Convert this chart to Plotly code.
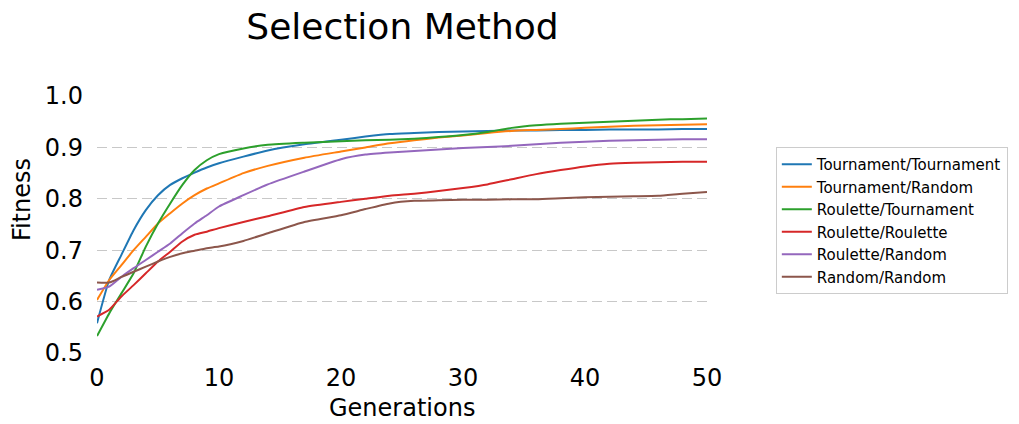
import plotly.graph_objects as go

generations = [0, 1, 2, 3, 4, 5, 6, 7, 8, 9, 10, 12, 14, 17, 20, 22, 24, 26, 28, 30,
               32, 34, 36, 38, 40, 42, 44, 46, 48, 50]

tournament_tournament = [0.558, 0.642, 0.691, 0.739, 0.778, 0.807, 0.827, 0.840, 0.851, 0.861,
                         0.869, 0.882, 0.894, 0.906, 0.915, 0.921, 0.926, 0.928, 0.930, 0.931,
                         0.932, 0.933, 0.933, 0.934, 0.934, 0.935, 0.935, 0.935, 0.936, 0.936]
tournament_random = [0.603, 0.642, 0.671, 0.700, 0.726, 0.752, 0.772, 0.791, 0.807, 0.820,
                     0.830, 0.850, 0.864, 0.880, 0.892, 0.900, 0.908, 0.914, 0.919, 0.923,
                     0.928, 0.932, 0.934, 0.936, 0.938, 0.940, 0.942, 0.943, 0.944, 0.945]
roulette_tournament = [0.533, 0.577, 0.616, 0.655, 0.707, 0.752, 0.791, 0.827, 0.856, 0.875,
                       0.887, 0.898, 0.905, 0.909, 0.912, 0.914, 0.915, 0.917, 0.920, 0.924,
                       0.930, 0.938, 0.943, 0.946, 0.948, 0.950, 0.952, 0.954, 0.955, 0.956]
roulette_roulette = [0.571, 0.584, 0.610, 0.632, 0.655, 0.678, 0.697, 0.717, 0.730, 0.736,
                     0.743, 0.755, 0.766, 0.784, 0.794, 0.800, 0.806, 0.810, 0.815, 0.821,
                     0.828, 0.838, 0.848, 0.856, 0.863, 0.868, 0.870, 0.871, 0.872, 0.872]
roulette_random = [0.623, 0.629, 0.648, 0.665, 0.681, 0.697, 0.713, 0.733, 0.752, 0.768,
                   0.785, 0.807, 0.828, 0.853, 0.877, 0.886, 0.890, 0.893, 0.896, 0.899,
                   0.901, 0.903, 0.906, 0.909, 0.911, 0.913, 0.914, 0.915, 0.916, 0.916]
random_random = [0.637, 0.637, 0.648, 0.658, 0.668, 0.678, 0.687, 0.694, 0.699, 0.704,
                 0.707, 0.718, 0.733, 0.755, 0.768, 0.780, 0.791, 0.796, 0.797, 0.798,
                 0.798, 0.799, 0.799, 0.801, 0.803, 0.804, 0.805, 0.806, 0.810, 0.813]

series_names = ["Tournament/Tournament", "Tournament/Random", "Roulette/Tournament",
                "Roulette/Roulette", "Roulette/Random", "Random/Random"]
series_values = [tournament_tournament, tournament_random, roulette_tournament,
                 roulette_roulette, roulette_random, random_random]
colors = ["#1f77b4", "#ff7f0e", "#2ca02c", "#d62728", "#9467bd", "#8c564b"]

y_ticks = [0.5, 0.6, 0.7, 0.8, 0.9, 1.0]
x_ticks = [0, 10, 20, 30, 40, 50]

FONT = "DejaVu Sans"
W, H = 1019, 424
L, R, T, B = 97, 311, 96, 71

fig = go.Figure()
for name, vals, c in zip(series_names, series_values, colors):
    fig.add_trace(go.Scatter(x=generations, y=vals, name=name, mode="lines",
                             line=dict(color=c, width=2, shape="spline", smoothing=0.5)))

fig.update_layout(
    width=W, height=H,
    margin=dict(l=L, r=R, t=T, b=B),
    paper_bgcolor="white", plot_bgcolor="white",
    font=dict(family=FONT, color="black"),
    title=dict(text="Selection Method", x=402.5 / W, xanchor="center",
               y=1 - 26 / H, yanchor="middle", font=dict(size=36, family=FONT, color="black")),
    showlegend=True,
    legend=dict(x=1.111, y=(H - B - 147) / (H - T - B), xanchor="left", yanchor="top",
                bordercolor="#cccccc", borderwidth=1, bgcolor="white",
                font=dict(size=15, family=FONT, color="black"),
                tracegroupgap=0),
    annotations=[
        dict(text="Fitness", xref="paper", yref="paper", textangle=-90,
             x=(22 - L) / (W - L - R), y=(H - B - 200) / (H - T - B),
             xanchor="center", yanchor="middle", showarrow=False,
             font=dict(size=24, family=FONT, color="black")),
        dict(text="Generations", xref="paper", yref="paper",
             x=0.5, y=(H - B - 408) / (H - T - B),
             xanchor="center", yanchor="middle", showarrow=False,
             font=dict(size=24, family=FONT, color="black")),
    ],
)
fig.update_xaxes(range=[0, 50], tickvals=x_ticks, ticktext=[str(t) for t in x_ticks],
                 showgrid=False, zeroline=False, showline=False,
                 tickfont=dict(size=24, family=FONT), ticks="", ticklabelstandoff=8)
fig.update_yaxes(range=[0.5, 1.0], tickvals=y_ticks, ticktext=[f"{t:.1f}" for t in y_ticks],
                 showgrid=True, gridcolor="#c8c8c8", griddash="10px,5px", gridwidth=1.3,
                 zeroline=False, showline=False,
                 tickfont=dict(size=24, family=FONT), ticks="", ticklabelstandoff=13)

fig.write_html("out.html")
